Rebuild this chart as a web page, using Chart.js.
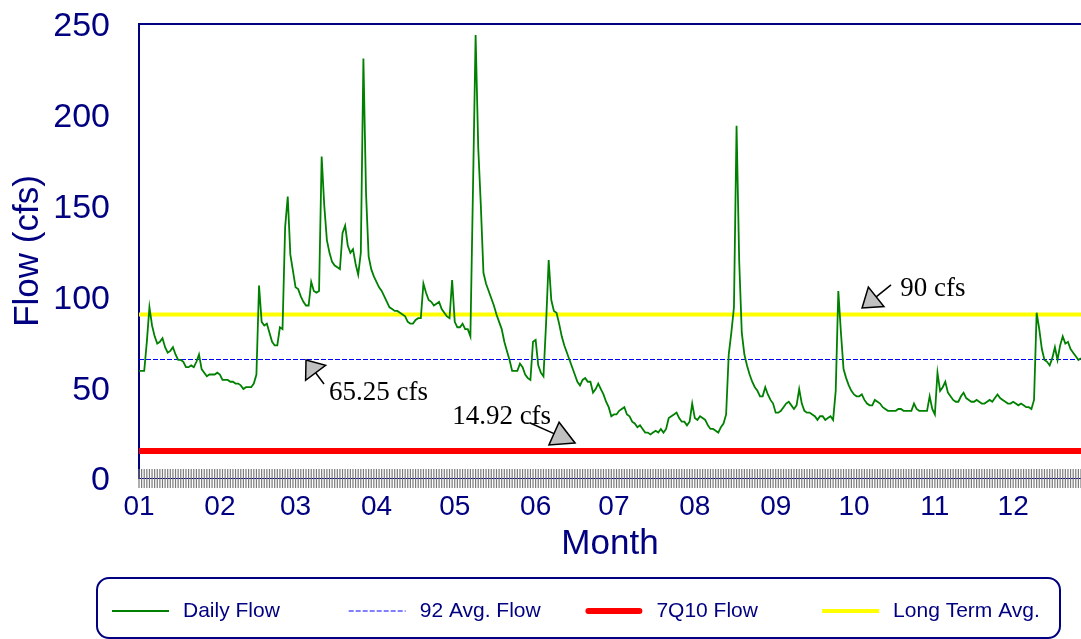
<!DOCTYPE html>
<html>
<head>
<meta charset="utf-8">
<title>Daily Flow 1992</title>
<script src="https://cdn.jsdelivr.net/npm/chart.js@4.4.1/dist/chart.umd.min.js"></script>
<style>
  html, body { margin: 0; padding: 0; background: #fff; overflow: hidden; }
  canvas { display: block; }
</style>
</head>
<body>
<canvas id="flowChart" width="1081" height="639"></canvas>
<script>
// month tick labels and the day of year (1992 is a leap year) each month starts on
const monthLabels = ["01", "02", "03", "04", "05", "06", "07", "08", "09", "10", "11", "12"];
const monthStartDays = [0, 31, 60, 91, 121, 152, 182, 213, 244, 274, 305, 335];

// daily flow (cfs), Jan 1 = day 0
const dailyFlow = [
  59, 59, 59, 75, 94, 84, 78, 74, 75, 77,
  72, 69, 70, 72, 68, 65, 65, 64, 61, 61,
  62, 61, 64, 68, 60, 58, 56, 57, 57, 57,
  58, 57, 54, 54, 54, 53, 53, 52, 52, 51,
  49, 50, 50, 50, 52, 57, 106, 86, 84, 85,
  80, 75, 73, 73, 83, 82, 138, 155, 123, 114,
  105, 104, 100, 97, 95, 95, 108, 103, 102, 103,
  177, 150, 131, 124, 119, 117, 116, 115, 135, 139,
  128, 124, 126, 118, 112, 124, 231, 157, 122, 115,
  111, 108, 105, 103, 100, 97, 94, 93, 92, 92,
  91, 90, 89, 86, 85, 85, 87, 88, 88, 107,
  102, 98, 97, 95, 96, 97, 93, 91, 89, 88,
  109, 86, 83, 83, 85, 82, 82, 78, 160, 244,
  182, 150, 113, 107, 103, 99, 95, 90, 86, 82,
  75, 70, 65, 59, 59, 59, 63, 61, 57, 55,
  54, 75, 76, 62, 58, 56, 85, 120, 98, 92,
  91, 85, 78, 73, 69, 65, 61, 57, 53, 51,
  54, 55, 53, 53, 47, 49, 52, 49, 46, 42,
  39, 34, 35, 35, 37, 38, 39, 35, 34, 31,
  30, 28, 29, 27, 25, 25, 24, 25, 26, 25,
  27, 25, 27, 33, 34, 35, 36, 33, 31, 31,
  29, 31, 41, 33, 32, 34, 33, 32, 29, 27,
  27, 26, 25, 28, 30, 35, 68, 80, 94, 194,
  120, 80, 68, 62, 57, 53, 50, 48, 45, 45,
  50, 46, 43, 41, 36, 36, 37, 39, 41, 42,
  40, 38, 40, 49, 41, 37, 36, 36, 35, 34,
  32, 34, 34, 32, 33, 34, 32, 48, 103, 80,
  60, 55, 51, 48, 46, 45, 45, 46, 43, 41,
  40, 40, 43, 42, 41, 39, 38, 37, 37, 37,
  37, 38, 38, 37, 37, 37, 37, 41, 38, 37,
  37, 37, 37, 45, 38, 35, 58, 48, 50, 53,
  47, 45, 43, 42, 42, 45, 47, 44, 43, 42,
  42, 43, 42, 41, 41, 42, 43, 42, 44, 46,
  44, 43, 42, 41, 41, 42, 41, 40, 41, 40,
  39, 39, 38, 43, 91, 82, 71, 65, 64, 62,
  66, 72, 65, 73, 78, 74, 75, 71, 69, 67,
  65, 66, 64, 63, 62, 61
];

// reference flows (cfs)
const avgFlow92 = 65.25;
const flow7Q10 = 14.92;
const longTermAvg = 90;

const yTicks = [0, 50, 100, 150, 200, 250];

// the plot is cut off a few days before the end of December
const xMax = 361;
const lastDay = dailyFlow.length - 1;

// callout labels, placed in data units (day, cfs)
const notes = [
  { text: "90 cfs", at: [291.7, 100.2], tail: [288.2, 106.3], tip: [277.1, 93.6], head: 18 },
  { text: "65.25 cfs", at: [72.8, 43], tail: [70.9, 51.8], tip: [64.0, 65.0], head: 16 },
  { text: "14.92 cfs", at: [120, 29.7], tail: [149.9, 30.3], tip: [167.1, 19.3], head: 23 },
];

const navy = "#000080";
const sans = "'Liberation Sans', Arial, sans-serif";
Chart.defaults.font.family = sans;

function flat(v) {
  return [{ x: 0, y: v }, { x: lastDay, y: v }];
}

// daily ticks across the x axis plus the top edge of the frame
const framePlugin = {
  id: "frame",
  beforeDatasetsDraw(chart) {
    const { ctx, chartArea: a, scales: { x } } = chart;
    ctx.save();
    ctx.strokeStyle = "#7a7a7a";
    ctx.lineWidth = 1.2;
    ctx.beginPath();
    for (let d = 0; d <= Math.min(lastDay, x.max); d++) {
      const px = x.getPixelForValue(d);
      ctx.moveTo(px, a.bottom - 9);
      ctx.lineTo(px, a.bottom + 10);
    }
    ctx.stroke();

    ctx.strokeStyle = navy;
    ctx.lineWidth = 2;
    ctx.beginPath();
    ctx.moveTo(a.left, a.top);
    ctx.lineTo(a.right, a.top);
    ctx.stroke();
    ctx.restore();
  },
};

// arrows with grey heads and the cfs labels
const notesPlugin = {
  id: "notes",
  afterDatasetsDraw(chart) {
    const { ctx, scales: { x, y } } = chart;
    ctx.save();
    notes.forEach((n) => {
      const tx = x.getPixelForValue(n.tip[0]), ty = y.getPixelForValue(n.tip[1]);
      const sx = x.getPixelForValue(n.tail[0]), sy = y.getPixelForValue(n.tail[1]);
      const len = Math.hypot(tx - sx, ty - sy);
      const ux = (tx - sx) / len, uy = (ty - sy) / len;
      const bx = tx - ux * n.head, by = ty - uy * n.head;
      const w = 12.5;

      ctx.strokeStyle = "#000";
      ctx.lineWidth = 1.5;
      ctx.beginPath();
      ctx.moveTo(sx, sy);
      ctx.lineTo(bx, by);
      ctx.stroke();

      ctx.beginPath();
      ctx.moveTo(tx, ty);
      ctx.lineTo(bx - uy * w, by + ux * w);
      ctx.lineTo(bx + uy * w, by - ux * w);
      ctx.closePath();
      ctx.fillStyle = "#c0c0c0";
      ctx.fill();
      ctx.stroke();

      ctx.fillStyle = "#000";
      ctx.font = "27px 'Liberation Serif', 'Times New Roman', serif";
      ctx.textBaseline = "alphabetic";
      ctx.textAlign = "left";
      ctx.fillText(n.text, x.getPixelForValue(n.at[0]), y.getPixelForValue(n.at[1]));
    });
    ctx.restore();
  },
};

// boxed legend along the bottom
const legendPlugin = {
  id: "boxLegend",
  afterDraw(chart) {
    const { ctx } = chart;
    ctx.save();
    ctx.strokeStyle = navy;
    ctx.lineWidth = 2;
    ctx.beginPath();
    ctx.roundRect(97, 578, 963, 60, 12);
    ctx.stroke();

    chart.data.datasets.forEach((ds, i) => {
      const x0 = 112 + i * 236.7;
      const yy = 611;
      ctx.strokeStyle = ds.borderColor;
      ctx.lineWidth = ds.borderWidth;
      ctx.lineCap = ds.borderCapStyle || "butt";
      ctx.setLineDash(ds.borderDash || []);
      ctx.beginPath();
      ctx.moveTo(x0 + (ds.borderCapStyle === "round" ? 3 : 0), yy);
      ctx.lineTo(x0 + 57 - (ds.borderCapStyle === "round" ? 3 : 0), yy);
      ctx.stroke();
      ctx.setLineDash([]);

      ctx.fillStyle = navy;
      ctx.font = "21px " + sans;
      ctx.textBaseline = "middle";
      ctx.textAlign = "left";
      ctx.fillText(ds.label, x0 + 71, yy);
    });
    ctx.restore();
  },
};

const ctx = document.getElementById("flowChart").getContext("2d");

new Chart(ctx, {
  type: "line",
  data: {
    datasets: [
      {
        label: "Daily Flow",
        data: dailyFlow.map((v, i) => ({ x: i, y: v })),
        borderColor: "#008000",
        borderWidth: 1.8,
        pointRadius: 0,
      },
      {
        label: "92 Avg. Flow",
        data: flat(avgFlow92),
        borderColor: "#0000ff",
        borderWidth: 1,
        borderDash: [5, 2],
        pointRadius: 0,
      },
      {
        label: "7Q10 Flow",
        data: flat(flow7Q10),
        borderColor: "#ff0000",
        borderWidth: 6,
        borderCapStyle: "round",
        pointRadius: 0,
      },
      {
        label: "Long Term Avg.",
        data: flat(longTermAvg),
        borderColor: "#ffff00",
        borderWidth: 4,
        pointRadius: 0,
      },
    ],
  },
  options: {
    responsive: false,
    animation: false,
    devicePixelRatio: 1,
    layout: { padding: { top: 24, right: 0, bottom: 0, left: 0 } },
    plugins: {
      legend: { display: false },
      tooltip: { enabled: false },
    },
    scales: {
      x: {
        type: "linear",
        min: 0,
        max: xMax,
        afterBuildTicks(scale) {
          scale.ticks = monthStartDays.map((v) => ({ value: v }));
        },
        afterFit(scale) {
          scale.height = 161;
        },
        ticks: {
          autoSkip: false,
          maxRotation: 0,
          padding: 12,
          color: navy,
          font: { size: 28 },
          callback: (v) => monthLabels[monthStartDays.indexOf(v)],
        },
        grid: { display: false, drawTicks: false },
        border: { display: true, color: navy, width: 1 },
        title: {
          display: true,
          text: "Month",
          color: navy,
          font: { size: 35 },
          padding: { top: 0, bottom: 74 },
        },
      },
      y: {
        min: 0,
        max: 250,
        afterBuildTicks(scale) {
          scale.ticks = yTicks.map((v) => ({ value: v }));
        },
        afterFit(scale) {
          // fixed axis width; the tick padding should not push the plot top down
          scale.width = 139;
          scale.paddingTop = 0;
          scale.paddingBottom = 0;
        },
        ticks: { padding: 29, labelOffset: 3, color: navy, font: { size: 34 } },
        grid: { display: false, drawTicks: false },
        border: { display: true, color: navy, width: 2 },
        title: {
          display: true,
          text: "Flow (cfs)",
          color: navy,
          font: { size: 35 },
          padding: { top: 7, bottom: 0 },
        },
      },
    },
  },
  plugins: [framePlugin, notesPlugin, legendPlugin],
});
</script>
</body>
</html>
